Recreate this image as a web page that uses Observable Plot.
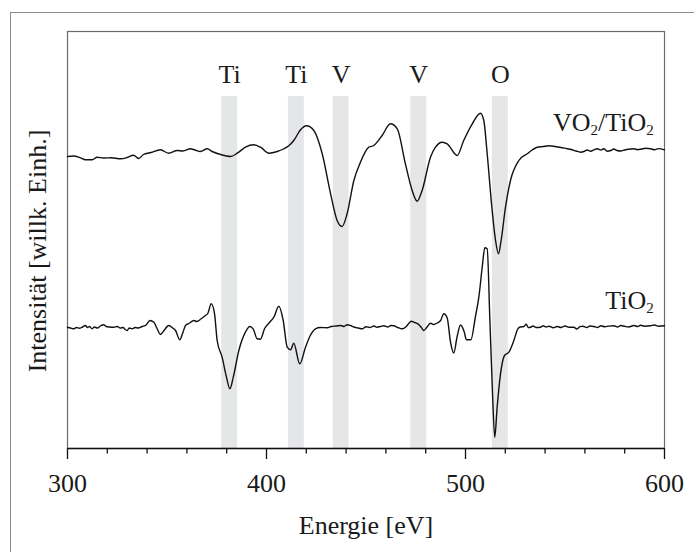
<!DOCTYPE html>
<html>
<head>
<meta charset="utf-8">
<script src="https://cdn.jsdelivr.net/npm/d3@7"></script>
<script src="https://cdn.jsdelivr.net/npm/@observablehq/plot@0.6"></script>
<style>
  html, body { margin: 0; padding: 0; background: #fff; }
  #wrap { position: relative; width: 694px; height: 552px; overflow: hidden; background: #fff; }
  #outer { position: absolute; left: 10px; top: 12px; width: 720px; height: 580px;
           border-left: 1.5px solid #8a8a8a; border-top: 1.5px solid #8a8a8a; }
  #chart { position: absolute; left: 0; top: 0; }
  #chart svg text { font-family: "Liberation Serif", "Times New Roman", serif !important; }
</style>
</head>
<body>
<div id="wrap"><div id="outer"></div><div id="chart"></div></div>
<script>
// ---- data (energy in eV, intensity in arbitrary units) ----
const vo2Energy = [300, 303, 306.5, 309, 312.4, 314.9, 318, 322, 326.6, 330, 333.2, 335.7, 338.2, 342, 346.7, 350.8, 355.1, 358, 361.8, 364, 366.8, 370.2, 372.7, 376.9, 381.9, 385.3, 389.4, 393.6, 397, 401.2, 405.4, 408.5, 411.2, 413.7, 417.1, 420.1, 423.8, 428, 432.2, 435.5, 438, 440.5, 443.9, 447.2, 451.4, 453.9, 458.1, 462.3, 465.7, 469.8, 473.2, 475.7, 478.2, 482.4, 484.9, 488.3, 490.8, 495.8, 499.1, 503.4, 507.5, 509.2, 510.9, 513.4, 515.1, 516.6, 517.9, 520.1, 522.6, 526.8, 531, 533.5, 536, 539, 541.9, 545, 548, 551.1, 553, 555.5, 557.8, 559.5, 561, 563, 564.5, 566.2, 568, 569.5, 571.2, 573, 574.5, 576.2, 578, 580, 582, 584.6, 586.5, 588.5, 590.5, 593, 595, 597, 600];
const vo2Intensity = [292, 292.5, 290.7, 288.7, 288.7, 291.3, 290.5, 290.8, 289.7, 291, 293.3, 290, 294, 296, 298.7, 295.3, 298, 297.5, 299.7, 298.5, 297, 299.7, 297, 294, 292, 295.3, 301.3, 303.7, 301.3, 295.3, 297, 299.5, 302.7, 308, 318.7, 322.7, 318, 294.7, 254.7, 228, 222, 234.7, 268, 286.3, 301.3, 303, 313, 324.7, 319.7, 284.7, 258, 247.3, 258, 291.3, 301.3, 306.3, 304.7, 293, 308, 324.7, 335.3, 328, 294.7, 238, 208, 194.7, 208, 241.3, 268, 288, 294.7, 298.5, 301.3, 302, 302.7, 302, 301, 299.7, 299, 297.5, 296.3, 297, 298.5, 297.3, 298.7, 299.7, 298.5, 299.8, 297.3, 298, 299.5, 298, 297.5, 298.5, 299.2, 299.7, 298.8, 299.5, 300.2, 299.7, 298.8, 299.9, 298.7];

const tio2Energy = [300, 301.5, 303.2, 304.5, 306, 307.5, 309, 310, 311, 312.4, 313.5, 315, 316.5, 318.2, 319.5, 321, 323.3, 325, 326.5, 328, 329, 330, 331, 332.5, 334, 335.5, 337.5, 339.5, 341.4, 343.4, 345, 346.7, 348.5, 350.9, 352.5, 354.3, 356.4, 358, 359.3, 361, 363.5, 365, 367, 369.3, 370.5, 372.2, 373.9, 375.2, 377.7, 379.9, 381.6, 383.3, 386.1, 389.4, 391.6, 393.3, 395.3, 397, 399, 401.5, 403.7, 406.2, 408.4, 410.4, 412.1, 413.7, 416.7, 419.6, 422, 424.6, 427, 430.5, 432.5, 435, 437.2, 439, 440.5, 442.2, 444, 446, 448.1, 450, 452, 454, 455.5, 457.3, 459, 461, 462.5, 464, 466, 468.2, 470, 471.5, 472.7, 474.5, 476.5, 478, 479, 480.5, 482.4, 484, 485.8, 487.5, 489.1, 490.8, 492.5, 494.1, 495.8, 497.5, 499.3, 500.5, 502.7, 505, 506.7, 508.4, 509.7, 510.9, 512.2, 513.4, 514.7, 515.9, 517.6, 519.6, 521.8, 524.3, 526.3, 527.5, 529.3, 530.5, 531.5, 532.7, 534, 535.5, 537.7, 539, 540.5, 542, 544, 546.1, 548, 550, 552, 554.4, 556, 557.5, 559, 561, 562.5, 564.5, 566.5, 568, 570, 572, 574.5, 576.5, 578, 580, 582, 584.6, 586.5, 588, 590, 593, 595, 597, 600];
const tio2Intensity = [121.3, 120.5, 119.7, 121, 120.2, 121.5, 123, 121, 122, 119.7, 121.5, 120.5, 122.5, 123.7, 122, 121.5, 121.3, 122, 120.5, 121, 119, 118, 120.5, 119.7, 121, 120.5, 122, 123.5, 128, 126.3, 120, 114, 118, 123, 121, 118, 108.7, 116, 123, 125, 128, 127, 129.5, 133, 135, 144.7, 134.7, 108, 91.3, 71.3, 59.7, 71.3, 98, 116.3, 122, 119.7, 109.7, 109.3, 119.7, 126, 131.3, 142.3, 128, 101.3, 98.7, 105.3, 84.7, 101.3, 113, 119.7, 121, 120.7, 122, 122.5, 123, 122, 123.8, 123, 121.5, 120.5, 119.7, 121.8, 121, 122.5, 121.3, 122, 122.8, 121.5, 123, 122.7, 121, 119.7, 121.5, 125, 127.3, 126, 124, 120.5, 118, 121, 125.3, 124, 125.5, 128, 134.7, 130.5, 106, 95.5, 112, 123.5, 117, 108.7, 108.7, 132, 151.3, 181.3, 200.7, 199.7, 131.3, 64.7, 11.3, 41.3, 74.7, 93, 96.3, 108, 119.7, 121.5, 122, 124.3, 121, 121.3, 122.5, 121, 121.3, 122.8, 121.5, 122.3, 120.8, 122, 121, 122.5, 121.2, 121.3, 119.5, 121.8, 122.3, 121, 122.5, 122, 121, 122.8, 121.7, 122.4, 122.7, 121.5, 123, 122.2, 121.5, 123, 122, 123.2, 122.3, 122.7, 123.5, 122.3, 122.7];

const bandStart = [377.5, 411, 433.5, 472.5, 513.5];
const bandEnd   = [385.5, 419, 441.5, 480.5, 521.5];
const bandLabel = ["Ti", "Ti", "V", "V", "O"];

const seriesNames = ["VO2/TiO2", "TiO2"];
const majorTicks = [300, 400, 500, 600];
const minorTicks = [320, 340, 360, 380, 420, 440, 460, 480, 520, 540, 560, 580];
const xTitle = "Energie [eV]";
const yTitle = "Intensität [willk. Einh.]";

// ---- tables built from the arrays ----
const vo2 = vo2Energy.map((e, i) => ({e, v: vo2Intensity[i]}));
const tio2 = tio2Energy.map((e, i) => ({e, v: tio2Intensity[i]}));
const bands = bandStart.map((s, i) => ({s, t: bandEnd[i], label: bandLabel[i]}));
const vo2Last = [vo2[vo2.length - 1]];
const tio2Last = [tio2[tio2.length - 1]];

const bandTop = 352;
const ink = "#1a1a1a";
const font = "Liberation Serif";

const svg = Plot.plot({
  width: 694,
  height: 552,
  marginLeft: 67,
  marginRight: 30,
  marginTop: 31,
  marginBottom: 104,
  style: {fontFamily: font, fontSize: "26px", color: ink, background: "transparent", overflow: "visible"},
  x: {domain: [300, 600], axis: null},
  y: {domain: [0, 417], axis: null},
  marks: [
    Plot.rect(bands, {x1: "s", x2: "t", y1: 0, y2: bandTop, fill: "#e5e6e8"}),
    Plot.frame({stroke: "#6a6a6a", strokeWidth: 1.2}),
    Plot.ruleY([0], {stroke: "#111", strokeWidth: 1.5}),
    Plot.axisX(majorTicks, {tickSize: 11, tickPadding: 14.5, strokeWidth: 1.3, stroke: "#111",
      fill: ink, fontSize: 26, fontFamily: font, fontVariant: "normal", label: null, tickFormat: d => String(d)}),
    Plot.axisX(minorTicks, {tickSize: 5.5, strokeWidth: 1.3, stroke: "#111",
      tickFormat: () => "", label: null}),
    Plot.line(vo2, {x: "e", y: "v", stroke: "#111", strokeWidth: 1.4, curve: "monotone-x"}),
    Plot.line(tio2, {x: "e", y: "v", stroke: "#111", strokeWidth: 1.4, curve: "monotone-x"}),
    Plot.text(bands, {x: d => (d.s + d.t) / 2, text: "label", frameAnchor: "top", lineAnchor: "bottom",
      dy: 51, fill: ink, fontSize: 26, fontFamily: font}),
    Plot.text(vo2Last, {x: "e", y: "v", text: () => seriesNames[0], textAnchor: "end", lineAnchor: "bottom",
      dx: -10.7, dy: -19.3, fill: ink, fontSize: 26, fontFamily: font}),
    Plot.text(tio2Last, {x: "e", y: "v", text: () => seriesNames[1], textAnchor: "end", lineAnchor: "bottom",
      dx: -10.7, dy: -17, fill: ink, fontSize: 26, fontFamily: font}),
    Plot.text([xTitle], {frameAnchor: "bottom", textAnchor: "middle", lineAnchor: "bottom", dy: 85.3,
      fill: ink, fontSize: 26, fontFamily: font}),
    Plot.text([yTitle], {frameAnchor: "left", textAnchor: "middle", lineAnchor: "middle", rotate: -90,
      dx: -29.6, dy: 11, fill: ink, fontSize: 26, fontFamily: font})
  ]
});

// chemical formulas: render the "2" as subscripts
d3.select(svg).selectAll("text").each(function () {
  const t = this.textContent;
  if (!seriesNames.includes(t)) return;
  const parts = t.split("2");
  const sel = d3.select(this);
  sel.text(null);
  parts.forEach((p, i) => {
    if (p) sel.append("tspan").text(p).attr("dy", i > 0 ? -4 : null);
    if (i < parts.length - 1) {
      sel.append("tspan").text("2").attr("font-size", 15).attr("dy", 4);
    }
  });
});
d3.select(svg).selectAll("text").attr("font-family", "Liberation Serif, serif");

document.getElementById("chart").appendChild(svg);
</script>
</body>
</html>
